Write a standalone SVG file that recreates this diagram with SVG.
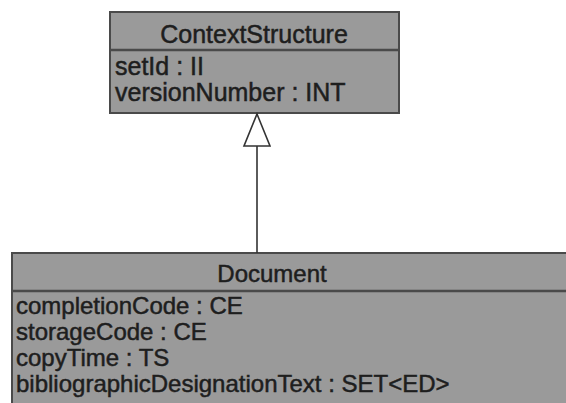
<svg xmlns="http://www.w3.org/2000/svg" width="566" height="403" viewBox="0 0 566 403">
<style>
.box{fill:#9a9a9a;stroke:#4a4a4a;stroke-width:2}
.div{stroke:#4a4a4a;stroke-width:2.5}
.t{font-family:"Liberation Sans",Arial,sans-serif;fill:#1e1e1e;stroke:#1e1e1e;stroke-width:0.5}
.edge{fill:none;stroke:#333;stroke-width:1.6}
</style>
<rect width="566" height="403" fill="#ffffff"/>
<g id="ContextStructure">
<rect class="box" x="110" y="12" width="289" height="101"/>
<line class="div" x1="110" y1="50" x2="399" y2="50"/>
<text class="t" x="254" y="43" font-size="25" text-anchor="middle">ContextStructure</text>
<text class="t" x="115" y="75" font-size="25">setId : II</text>
<text class="t" x="115" y="101" font-size="25">versionNumber : INT</text>
</g>
<g id="Document">
<rect class="box" x="12" y="253" width="570" height="170"/>
<line class="div" x1="12" y1="291" x2="582" y2="291"/>
<text class="t" x="272" y="282" font-size="24" text-anchor="middle">Document</text>
<text class="t" x="16" y="314" font-size="24">completionCode : CE</text>
<text class="t" x="16" y="340" font-size="24">storageCode : CE</text>
<text class="t" x="16" y="366" font-size="24">copyTime : TS</text>
<text class="t" x="16" y="392" font-size="24">bibliographicDesignationText : SET&lt;ED&gt;</text>
</g>
<g id="connectors">
<line class="edge" x1="257" y1="146" x2="257" y2="253"/>
<polygon class="edge" points="257,114 270,146 244,146" fill="#ffffff"/>
</g>
</svg>
